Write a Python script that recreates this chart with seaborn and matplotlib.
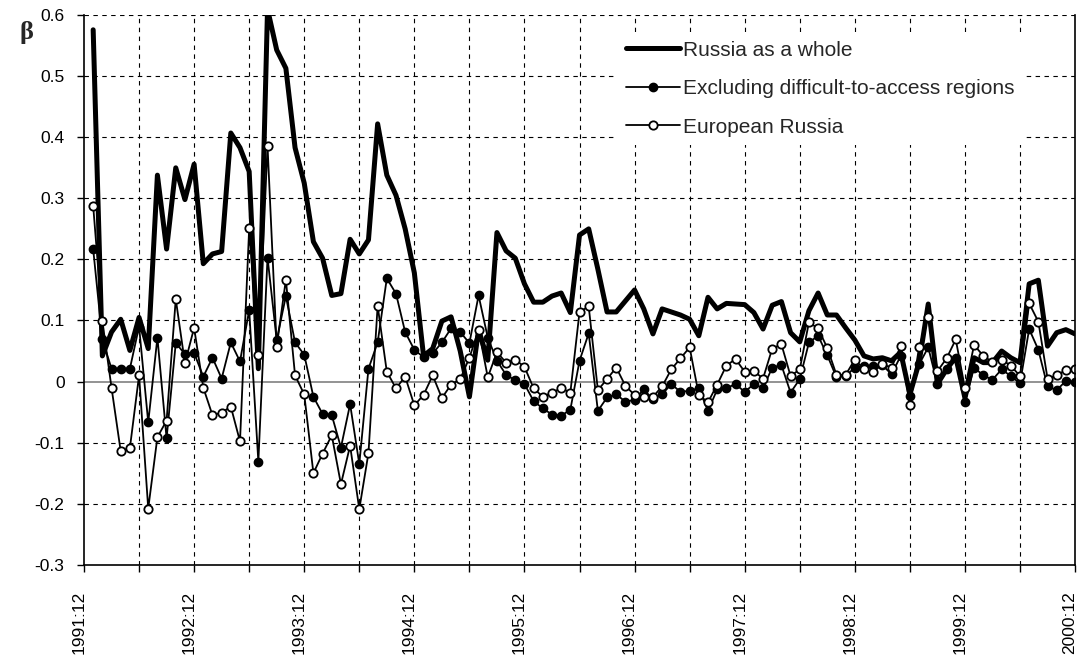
import numpy as np
import pandas as pd
import matplotlib
matplotlib.use("Agg")
import matplotlib.pyplot as plt
import matplotlib.transforms as mtransforms
import seaborn as sns

# monthly beta, 1992:01 .. 2000:12 (month 0 = 1991:12)
months = list(range(1, 109))

russia = [0.576, 0.042, 0.081, 0.102, 0.051, 0.105, 0.054, 0.338, 0.217, 0.350, 0.298, 0.356,
          0.193, 0.209, 0.213, 0.407, 0.383, 0.344, 0.021, 0.610, 0.543, 0.513, 0.383, 0.325,
          0.229, 0.202, 0.141, 0.144, 0.233, 0.209, 0.232, 0.422, 0.338, 0.305, 0.250, 0.178,
          0.042, 0.054, 0.099, 0.106, 0.050, -0.025, 0.085, 0.035, 0.244, 0.214, 0.202, 0.160,
          0.130, 0.130, 0.140, 0.145, 0.113, 0.240, 0.250, 0.184, 0.114, 0.114, 0.132, 0.150,
          0.119, 0.078, 0.119, 0.114, 0.109, 0.102, 0.075, 0.138, 0.119, 0.128, 0.127, 0.126,
          0.113, 0.086, 0.125, 0.131, 0.080, 0.065, 0.116, 0.145, 0.109, 0.109, 0.088, 0.068,
          0.042, 0.037, 0.039, 0.034, 0.048, -0.021, 0.031, 0.127, -0.004, 0.020, 0.040, -0.027,
          0.039, 0.031, 0.031, 0.050, 0.039, 0.031, 0.160, 0.166, 0.058, 0.080, 0.085, 0.078]

excluding = [0.217, 0.069, 0.021, 0.021, 0.021, 0.090, -0.067, 0.072, -0.093, 0.063, 0.045, 0.047,
             0.008, 0.039, 0.005, 0.064, 0.033, 0.117, -0.131, 0.203, 0.068, 0.140, 0.064, 0.044,
             -0.025, -0.053, -0.055, -0.108, -0.037, -0.135, 0.021, 0.064, 0.169, 0.144, 0.081, 0.052,
             0.040, 0.046, 0.064, 0.087, 0.081, 0.063, 0.141, 0.072, 0.034, 0.011, 0.002, -0.004,
             -0.032, -0.044, -0.054, -0.056, -0.046, 0.034, 0.079, -0.048, -0.026, -0.021, -0.033, -0.030,
             -0.013, -0.029, -0.021, -0.004, -0.017, -0.015, -0.011, -0.048, -0.013, -0.011, -0.004, -0.017,
             -0.004, -0.011, 0.023, 0.027, -0.018, 0.004, 0.064, 0.075, 0.043, 0.007, 0.009, 0.023,
             0.025, 0.025, 0.027, 0.012, 0.042, -0.023, 0.028, 0.056, -0.004, 0.020, 0.039, -0.033,
             0.023, 0.010, 0.003, 0.020, 0.009, -0.003, 0.086, 0.052, -0.008, -0.014, 0.001, -0.001]

european = [0.288, 0.099, -0.010, -0.114, -0.109, 0.010, -0.208, -0.091, -0.064, 0.135, 0.030, 0.088,
            -0.010, -0.055, -0.051, -0.041, -0.098, 0.251, 0.044, 0.386, 0.057, 0.167, 0.010, -0.021,
            -0.150, -0.118, -0.088, -0.168, -0.105, -0.209, -0.117, 0.124, 0.016, -0.011, 0.008, -0.039,
            -0.022, 0.010, -0.027, -0.005, 0.004, 0.039, 0.085, 0.007, 0.048, 0.031, 0.036, 0.024,
            -0.011, -0.025, -0.018, -0.011, -0.018, 0.114, 0.123, -0.014, 0.004, 0.023, -0.007, -0.022,
            -0.025, -0.025, -0.008, 0.020, 0.038, 0.056, -0.022, -0.034, -0.005, 0.026, 0.037, 0.016,
            0.017, 0.005, 0.054, 0.061, 0.009, 0.020, 0.097, 0.087, 0.055, 0.011, 0.011, 0.036,
            0.020, 0.016, 0.028, 0.023, 0.058, -0.039, 0.056, 0.105, 0.017, 0.038, 0.069, -0.011,
            0.060, 0.042, 0.032, 0.036, 0.026, 0.009, 0.128, 0.098, 0.005, 0.010, 0.019, 0.020]

labels = ["Russia as a whole", "Excluding difficult-to-access regions", "European Russia"]

df = pd.DataFrame({"month": months, labels[0]: russia, labels[1]: excluding, labels[2]: european})

sns.set_style("ticks")
plt.rcParams["font.family"] = ["Liberation Sans", "DejaVu Sans"]

fig, ax = plt.subplots(figsize=(10.81, 6.59), dpi=100)
fig.subplots_adjust(left=0.0777, right=0.9945, top=0.977, bottom=0.143)

xt = list(range(0, 109, 6))
yt = np.round(np.arange(-0.3, 0.61, 0.1), 1)

# dashed grid, kept off the solid frame lines
grid_kw = dict(linestyle=(0, (4, 4)), color="black", lw=0.8, zorder=0.5)
for t in xt[1:-1]:
    ax.axvline(t, **grid_kw)
for v in yt[1:]:
    if v != 0:
        ax.axhline(v, **grid_kw)
ax.axhline(0, color="#808080", lw=1.2, zorder=1.5)

sns.lineplot(data=df, x="month", y=labels[0], ax=ax, color="black", lw=3.6, label=labels[0])
sns.lineplot(data=df, x="month", y=labels[1], ax=ax, color="black", lw=1.3, marker="o",
             markersize=6, markerfacecolor="black", markeredgecolor="black",
             markeredgewidth=1, label=labels[1])
sns.lineplot(data=df, x="month", y=labels[2], ax=ax, color="black", lw=1.3, marker="o",
             markersize=6, markerfacecolor="white", markeredgecolor="black",
             markeredgewidth=1.3, label=labels[2])

ax.set_xlim(0, 108)
ax.set_ylim(-0.3, 0.6)
ax.set_xticks(xt)
ax.set_xticklabels([f"{1991 + t // 12}:12" if t % 12 == 0 else "" for t in xt], rotation=90)
ax.set_yticks(yt)
ax.set_yticklabels(["0" if v == 0 else f"{v:.1f}" for v in yt])
ax.tick_params(axis="both", direction="out", length=5, width=1, color="black",
               labelsize=12.5, labelcolor="black")
ax.tick_params(axis="x", pad=14)
ax.tick_params(axis="y", pad=9)
ax.set_xlabel("")
ax.set_ylabel("")

# rotated date labels sit a little left of their ticks
shift = mtransforms.ScaledTranslation(-5 / 100, 0, fig.dpi_scale_trans)
for lab in ax.get_xticklabels():
    lab.set_transform(lab.get_transform() + shift)

for s in ["left", "bottom", "right"]:
    ax.spines[s].set_visible(True)
    ax.spines[s].set_color("black")
    ax.spines[s].set_linewidth(1.2)
    ax.spines[s].set_zorder(5)
ax.spines["top"].set_visible(False)

leg = ax.legend(loc="upper left", bbox_to_anchor=(0.538, 0.969), frameon=True, fontsize=15,
                handlelength=2.6, handletextpad=0.15, labelspacing=0.94, borderpad=0.4,
                borderaxespad=0, fancybox=False, framealpha=1)
leg.get_frame().set_facecolor("white")
leg.get_frame().set_edgecolor("none")

fig.text(0.018, 0.968, "β", fontsize=19, fontweight="bold", va="top",
         family=["Liberation Serif", "DejaVu Serif"])

fig.savefig("out.png", dpi=100)
